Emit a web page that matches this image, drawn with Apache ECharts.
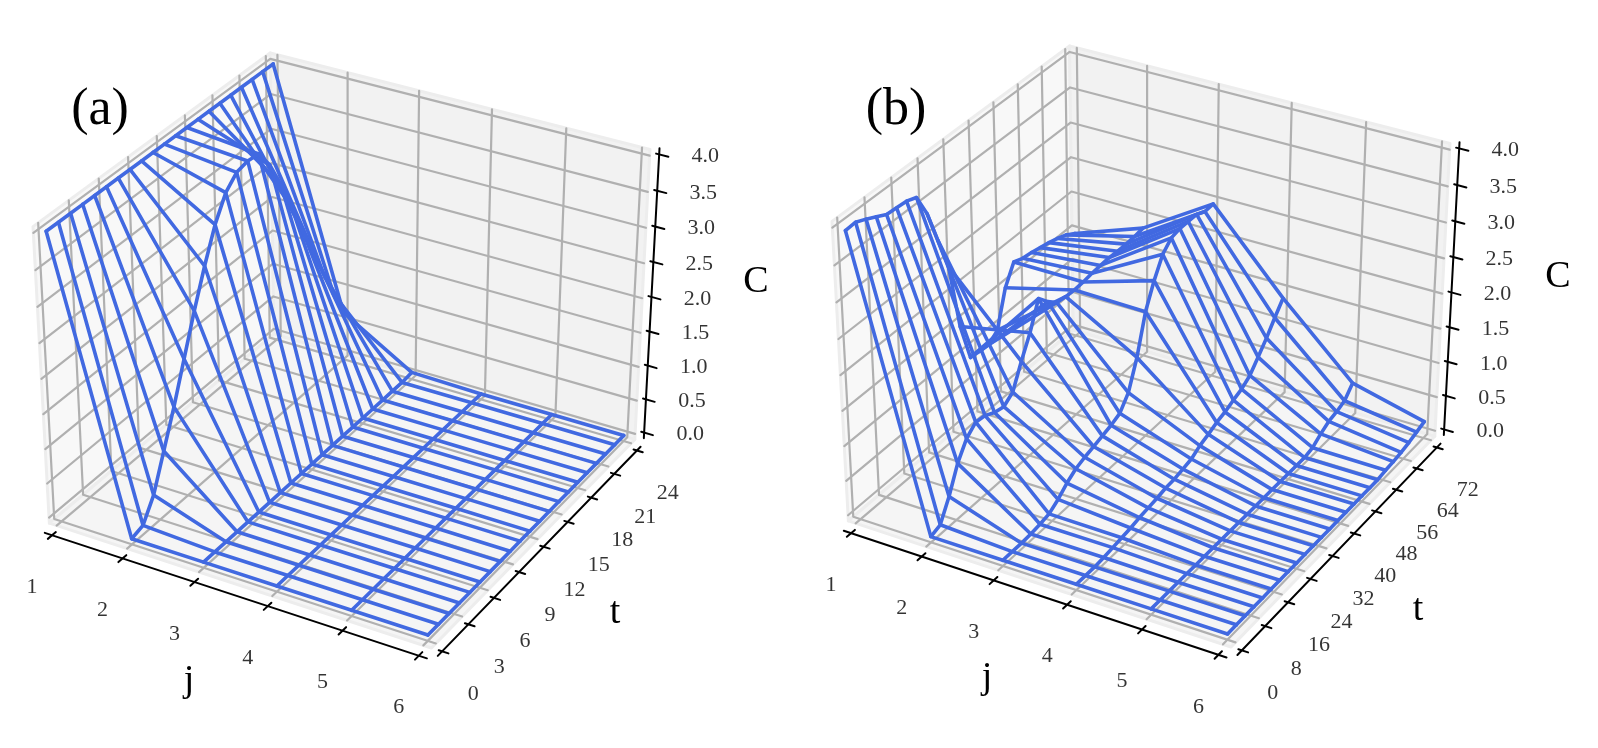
<!DOCTYPE html>
<html><head><meta charset="utf-8">
<style>html,body{margin:0;padding:0;background:#fff}#c{width:1598px;height:748px}</style>
<script src="https://cdn.jsdelivr.net/npm/echarts@6/dist/echarts.min.js"></script>
</head><body><div id="c"></div>
<script>
// ---------- data ----------
const jValues=[1,2,3,4,5,6];
const jTicks=[1,2,3,4,5,6];
const cTicks=[0,0.5,1,1.5,2,2.5,3,3.5,4];
const tTicksA=[0,3,6,9,12,15,18,21,24];
const tTicksB=[0,8,16,24,32,40,48,56,64,72];
const tRowsA=[0,1.2,2.4,3.6,4.8,6,7.2,8.4,9.6,10.8,12,13.2,14.4,15.6,16.8,18,19.2,20.4,21.6,22.8,24];
const tRowsB=[0,3,6,9,12,15,18,21,24,27,30,33,36,39,42,45,48,51,54,57,60,63,66,69,72];
const aJ1=[4,4,4,4,4,4,4,4,4,4,4,4,4,4,4,4,4,4,4,4,4];
const aJ2=[0,0.05,0.35,0.85,1.35,1.9,2.45,2.95,3.4,3.72,3.88,3.92,3.9,3.63,3.24,2.8,2.34,1.92,1.47,1.04,0.63];
const aJ3=[0,0,0,0,0,0,0,0,0,0,0,0,0,0,0,0,0,0,0,0,0.02];
const aJ4=[0,0,0,0,0,0,0,0,0,0,0,0,0,0,0,0,0,0,0,0,0];
const aJ5=[0,0,0,0,0,0,0,0,0,0,0,0,0,0,0,0,0,0,0,0,0];
const aJ6=[0,0,0,0,0,0,0,0,0,0,0,0,0,0,0,0,0,0,0,0,0];
const bJ1=[3.94,3.95,3.89,3.82,3.75,3.74,3.73,3.68,3.36,2.89,2.42,1.46,0.9,0.88,0.87,0.97,1.49,1.76,1.71,1.69,1.66,1.63,1.59,1.54,1.46];
const bJ2=[0,0.05,0.34,0.7,0.94,1.06,1.04,0.97,0.94,1.04,1.37,1.67,2.05,1.9,1.78,1.76,1.75,1.76,1.78,1.79,1.8,1.79,1.79,1.8,1.82];
const bJ3=[0,0,0,0.01,0.03,0.06,0.15,0.27,0.36,0.41,0.45,0.49,0.53,0.59,0.78,1.18,1.73,2.07,2.34,2.47,2.5,2.5,2.5,2.44,2.45];
const bJ4=[0,0,0,0.01,0.03,0.05,0.07,0.1,0.12,0.14,0.17,0.18,0.21,0.24,0.32,0.37,0.43,0.47,0.53,0.58,0.67,0.83,1.0,1.19,1.37];
const bJ5=[0,0,0,0,0,0,0,0,0,0,0,0,0,0,0,0,0,0,0,0.03,0.12,0.19,0.22,0.27,0.42];
const bJ6=[0,0,0,0,0,0,0,0,0,0,0,0,0,0,0,0,0,0,0,0.02,0.03,0.05,0.08,0.12,0.16];
// ---------- view ----------
const ELEV=32, AZIM=-60, DIST=10, BOX=[1.143,1.143,0.95], PAD=1/48;
const BLUE='#4169e1', GRID='#b0b0b0', SERIF='"Liberation Serif","Times New Roman",serif';
const e=ELEV*Math.PI/180,a=AZIM*Math.PI/180;
const n=[Math.cos(e)*Math.cos(a),Math.cos(e)*Math.sin(a),Math.sin(e)];
const ux=[-Math.sin(a),Math.cos(a),0];
const vx=[n[1]*ux[2]-n[2]*ux[1],n[2]*ux[0]-n[0]*ux[2],n[0]*ux[1]-n[1]*ux[0]];
function camera(u,v,w){
  const p=[(u-.5)*BOX[0]-DIST*n[0],(v-.5)*BOX[1]-DIST*n[1],(w-.5)*BOX[2]-DIST*n[2]];
  const d=-(p[0]*n[0]+p[1]*n[1]+p[2]*n[2]);
  return [(p[0]*ux[0]+p[1]*ux[1]+p[2]*ux[2])/d,(p[0]*vx[0]+p[1]*vx[1]+p[2]*vx[2])/d];
}
const lo=-PAD,hi=1+PAD,far=1+1.8*PAD,near=-2*PAD;
const paneCorners=[];
[lo,hi].forEach(u=>[lo,hi].forEach(v=>[lo,hi].forEach(w=>paneCorners.push(camera(u,v,w)))));
const xr=[Math.min(...paneCorners.map(p=>p[0])),Math.max(...paneCorners.map(p=>p[0]))];
const yr=[Math.min(...paneCorners.map(p=>p[1])),Math.max(...paneCorners.map(p=>p[1]))];

const panels=[
 {tRows:tRowsA,tTicks:tTicksA,tMax:24,C:[aJ1,aJ2,aJ3,aJ4,aJ5,aJ6],box:{left:33,top:53,width:617,height:595},m:[25,40,60,60]},
 {tRows:tRowsB,tTicks:tTicksB,tMax:72,C:[bJ1,bJ2,bJ3,bJ4,bJ5,bJ6],box:{left:832,top:46,width:618,height:601},m:[60,40,60,60]}
];
const series=[],grids=[],xAxes=[],yAxes=[];
panels.forEach((P,k)=>{
  const b=P.box, sx=(xr[1]-xr[0])/b.width, sy=(yr[1]-yr[0])/b.height, [mL,mT,mR,mB]=P.m;
  grids.push({left:b.left-mL,top:b.top-mT,width:b.width+mL+mR,height:b.height+mT+mB});
  xAxes.push({type:'value',gridIndex:k,min:xr[0]-mL*sx,max:xr[1]+mR*sx,show:false});
  yAxes.push({type:'value',gridIndex:k,min:yr[0]-mB*sy,max:yr[1]+mT*sy,show:false});
  const U=j=>(j-1)/5,V=t=>t/P.tMax,W=c=>c/4;
  const line=(pts,color,width,z)=>series.push({type:'line',xAxisIndex:k,yAxisIndex:k,data:pts,showSymbol:false,symbol:'none',
    silent:true,clip:false,z,animation:false,lineStyle:{color,width,cap:'round',join:'round'}});
  // panes
  const quads=[
    {c:'rgba(248,248,248,1)',q:[[lo,lo,lo],[lo,hi,lo],[lo,hi,hi],[lo,lo,hi]]},
    {c:'rgba(242,242,242,1)',q:[[lo,hi,lo],[hi,hi,lo],[hi,hi,hi],[lo,hi,hi]]},
    {c:'rgba(245,245,245,1)',q:[[lo,lo,lo],[hi,lo,lo],[hi,hi,lo],[lo,hi,lo]]}
  ].map(o=>({c:o.c,pts:o.q.map(q=>camera(q[0],q[1],q[2]))}));
  series.push({type:'custom',xAxisIndex:k,yAxisIndex:k,silent:true,clip:false,z:1,animation:false,
    data:quads.map((o,i)=>[o.pts[0][0],o.pts[0][1],i]),
    renderItem:(params,api)=>{const o=quads[api.value(2)];
      return {type:'polygon',shape:{points:o.pts.map(p=>api.coord(p))},style:{fill:o.c,stroke:'#ededed',lineWidth:3,lineJoin:'round'}};}});
  // grid lines
  jTicks.forEach(j=>line([camera(U(j),lo,lo),camera(U(j),hi,lo),camera(U(j),hi,hi)],GRID,2.2,2));
  P.tTicks.forEach(t=>line([camera(hi,V(t),lo),camera(lo,V(t),lo),camera(lo,V(t),hi)],GRID,2.2,2));
  cTicks.forEach(c=>line([camera(lo,lo,W(c)),camera(lo,hi,W(c)),camera(hi,hi,W(c))],GRID,2.2,2));
  // axis lines
  line([camera(lo,near,near),camera(hi,near,near)],'#000',2,6);
  line([camera(far,lo,near),camera(far,hi,near)],'#000',2,6);
  line([camera(far,far,lo),camera(far,far,hi)],'#000',2,6);
  // ticks
  const td=0.018;
  jTicks.forEach(j=>line([camera(U(j),near-td,near),camera(U(j),near+td*.9,near)],'#000',2,6));
  P.tTicks.forEach(t=>line([camera(far+td*.9,V(t),near),camera(far-td*.5,V(t),near)],'#000',2,6));
  cTicks.forEach(c=>line([camera(far+.024,far,W(c)),camera(far-.008,far,W(c))],'#000',2,6));
  // wireframe
  P.tRows.forEach((t,i)=>line(jValues.map((j,m)=>camera(U(j),V(t),W(P.C[m][i]))),BLUE,3.6,4));
  jValues.forEach((j,m)=>line(P.tRows.map((t,i)=>camera(U(j),V(t),W(P.C[m][i]))),BLUE,3.6,4));
  // tick labels
  const lab=(pts,texts,off)=>series.push({type:'scatter',xAxisIndex:k,yAxisIndex:k,symbolSize:1,silent:true,z:7,animation:false,clip:false,
    itemStyle:{color:'rgba(0,0,0,0)'},data:pts.map((p,i)=>({value:p,name:texts[i]})),
    label:{show:true,position:'inside',offset:off,formatter:d=>d.name,color:'#000',fontFamily:SERIF,fontSize:22}});
  lab(jTicks.map(j=>camera(U(j),near,near)),jTicks.map(String),[-20,52]);
  lab(P.tTicks.map(t=>camera(far,V(t),near)),P.tTicks.map(String),[31,43]);
  lab(cTicks.map(c=>camera(far,far,W(c))),cTicks.map(c=>c.toFixed(1)),[46,2]);
});
const txt=(text,left,top,fontSize)=>({text,left,top,padding:0,textAlign:'center',textVerticalAlign:'middle',textStyle:{fontFamily:SERIF,fontSize,fontWeight:'normal',color:'#000'}});
const chart=echarts.init(document.getElementById('c'),null,{renderer:'canvas'});
chart.setOption({animation:false,backgroundColor:'#fff',
  title:[txt('(a)',100,110,52),txt('(b)',896,110,52),txt('j',189,681,38),txt('t',615,613,38),txt('C',756,282,38),txt('j',987,678,38),txt('t',1418,610,38),txt('C',1558,277,38)],
  grid:grids,xAxis:xAxes,yAxis:yAxes,series});
</script></body></html>
